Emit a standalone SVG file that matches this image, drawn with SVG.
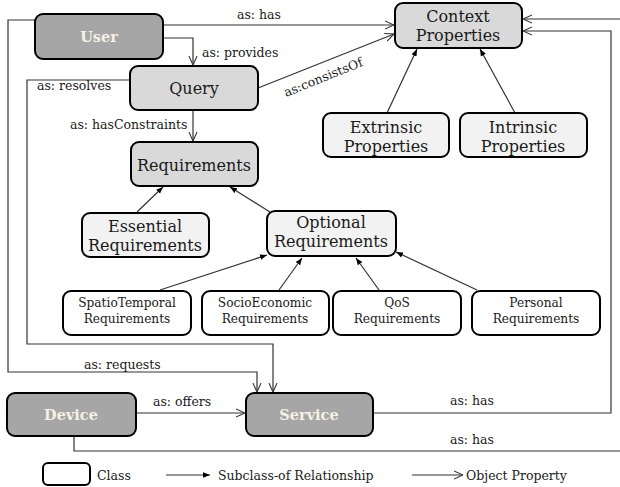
<svg xmlns="http://www.w3.org/2000/svg" width="620" height="487" viewBox="0 0 620 487">
<style>
.box{stroke:#000;stroke-width:2}
.dark{fill:#a6a6a6}
.mid{fill:#d9d9d9}
.light{fill:#f2f2f2}
.white{fill:#fff}
.conn{fill:none;stroke:#333;stroke-width:1.2}
.open{marker-end:url(#open)}
.sub{marker-end:url(#filled)}
text{font-family:"DejaVu Serif","Liberation Serif",serif;fill:#1a1a1a}
.big{font-size:16px;text-anchor:middle}
.small{font-size:12.2px;text-anchor:middle}
.lbl{font-size:12.5px}
.strong{font-weight:bold;font-size:14.5px;fill:#f5f1e4;text-anchor:middle}
</style>
<defs>
<marker id="open" viewBox="0 0 10 10" refX="10" refY="5" markerWidth="9" markerHeight="10" markerUnits="userSpaceOnUse" orient="auto"><path d="M0,0.5 L10,5 L0,9.5" fill="none" stroke="#333" stroke-width="1.2"/></marker>
<marker id="filled" viewBox="0 0 10 10" refX="10" refY="5" markerWidth="7" markerHeight="7" markerUnits="userSpaceOnUse" orient="auto"><path d="M0,1 L10,5 L0,9 Z" fill="#000"/></marker>
</defs>

<g id="connectors">
<path class="conn open" d="M163,25 H394"/>
<text class="lbl" x="237" y="19">as: has</text>
<path class="conn open" d="M163,38 H193 V65"/>
<text class="lbl" x="202" y="57">as: provides</text>
<path class="conn open" d="M258,88 L394,34"/>
<text class="lbl" transform="translate(286,97) rotate(-22)">as:consistsOf</text>
<path class="conn open" d="M193,110 V141"/>
<text class="lbl" x="70" y="129">as: hasConstraints</text>
<path class="conn open" d="M35,20 H8 V372 H257 V392"/>
<text class="lbl" x="84" y="369">as: requests</text>
<path class="conn open" d="M130,80 H27 V344 H273 V392"/>
<text class="lbl" x="37" y="90">as: resolves</text>
<path class="conn open" d="M136,413 H245"/>
<text class="lbl" x="153" y="406">as: offers</text>
<path class="conn open" d="M373,413 H611 V31 H523"/>
<text class="lbl" x="450" y="405">as: has</text>
<path class="conn open" d="M74,436 V451 H630 V19 H523"/>
<text class="lbl" x="450" y="444">as: has</text>
<path class="conn sub" d="M387,113 L417,49"/>
<path class="conn sub" d="M515,113 L480,49"/>
<path class="conn sub" d="M137,212 L163,187"/>
<path class="conn sub" d="M270,212 L230,187"/>
<path class="conn sub" d="M160,290 L267,255"/>
<path class="conn sub" d="M279,290 L302,258"/>
<path class="conn sub" d="M379,290 L356,258"/>
<path class="conn sub" d="M477,290 L396,252"/>
</g>

<g id="user"><rect class="box dark" x="35" y="14" width="128" height="45" rx="8"/><text class="strong" x="99" y="42">User</text></g>
<g id="query"><rect class="box mid" x="130" y="66" width="128" height="44" rx="8"/><text class="big" x="194" y="94">Query</text></g>
<g id="context"><rect class="box mid" x="395" y="3" width="127" height="45" rx="8"/><text class="big" x="458" y="22">Context</text><text class="big" x="458" y="41">Properties</text></g>
<g id="extrinsic"><rect class="box light" x="323" y="113" width="126" height="44" rx="8"/><text class="big" x="386" y="133">Extrinsic</text><text class="big" x="386" y="152">Properties</text></g>
<g id="intrinsic"><rect class="box light" x="460" y="113" width="127" height="44" rx="8"/><text class="big" x="523" y="133">Intrinsic</text><text class="big" x="523" y="152">Properties</text></g>
<g id="requirements"><rect class="box mid" x="131" y="142" width="127" height="44" rx="8"/><text class="big" x="194" y="171">Requirements</text></g>
<g id="essential"><rect class="box light" x="82" y="213" width="127" height="44" rx="8"/><text class="big" x="145" y="232">Essential</text><text class="big" x="145" y="251">Requirements</text></g>
<g id="optional"><rect class="box light" x="267" y="211" width="129" height="45" rx="8"/><text class="big" x="331" y="228">Optional</text><text class="big" x="331" y="247">Requirements</text></g>
<g id="spatio"><rect class="box white" x="63" y="291" width="128" height="44" rx="8"/><text class="small" x="127" y="307">SpatioTemporal</text><text class="small" x="127" y="323">Requirements</text></g>
<g id="socio"><rect class="box white" x="202" y="291" width="127" height="44" rx="8"/><text class="small" x="265" y="307">SocioEconomic</text><text class="small" x="265" y="323">Requirements</text></g>
<g id="qos"><rect class="box white" x="333" y="291" width="128" height="44" rx="8"/><text class="small" x="397" y="307">QoS</text><text class="small" x="397" y="323">Requirements</text></g>
<g id="personal"><rect class="box white" x="472" y="291" width="128" height="44" rx="8"/><text class="small" x="536" y="307">Personal</text><text class="small" x="536" y="323">Requirements</text></g>
<g id="device"><rect class="box dark" x="7" y="393" width="129" height="43" rx="8"/><text class="strong" x="71" y="420">Device</text></g>
<g id="service"><rect class="box dark" x="246" y="393" width="127" height="43" rx="8"/><text class="strong" x="309" y="420">Service</text></g>

<g id="legend">
<rect class="box white" x="43" y="463" width="47" height="22" rx="5"/>
<text class="lbl" x="97" y="480">Class</text>
<path class="conn sub" d="M166,475 H210"/>
<text class="lbl" x="218" y="480">Subclass-of Relationship</text>
<path class="conn open" d="M412,475 H463"/>
<text class="lbl" x="466" y="480">Object Property</text>
</g>
</svg>
